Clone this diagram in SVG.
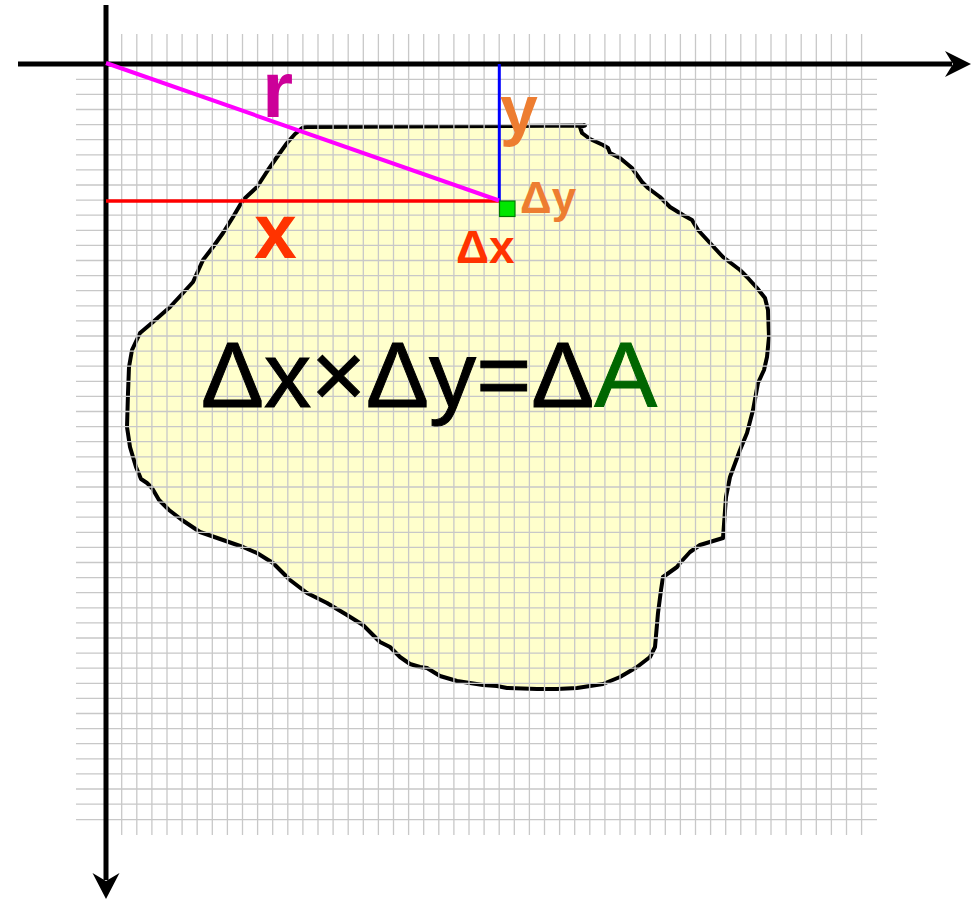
<svg xmlns="http://www.w3.org/2000/svg" width="976" height="900" viewBox="0 0 976 900">
<style>
.grid{stroke:#c8c8c8;stroke-width:1.3;fill:none}
.axis{stroke:#000;stroke-width:5;fill:none}
.lbl{font-family:"Liberation Sans",Arial,sans-serif;font-weight:bold}
</style>
<rect width="976" height="900" fill="#fff"/>
<g id="region">
<path d="M300,130 Q302,127 307,127 L585,125.5 L580,127 L582,133 L590,139 L603,145 L608,148 L610,153 L620,158 L632,168 L637,175 L642,182 L648,188 L660,197 L670,207 L683,215 L692,220 L698,230 L710,243 L723,257 L740,270 L747,277 L757,288 L765,298 L768,310 L769,337 L767,357 L764,370 L758,383 L753,410 L747,433 L740,450 L730,477 L726,497 L723,538 L700,545 L690,552 L680,563 L677,567 L663,577 L661,590 L658,613 L655,647 L650,657 L637,667 L620,677 L603,684 L577,688 L557,689 L537,689 L507,688 L497,686 L483,685 L457,681 L440,676 L427,668 L420,667 L410,664 L400,657 L390,647 L380,642 L363,625 L347,615 L327,603 L307,593 L290,580 L273,563 L257,553 L243,547 L223,540 L200,532 L182,520 L169,510 L159,500 L152,488 L147,483 L141,479 L136,467 L130,447 L127,427 L128,393 L129,367 L132,350 L140,333 L153,322 L170,307 L183,293 L193,282 L203,260 L213,247 L223,233 L233,217 L243,200 L257,187 L268,170 L277,157 L287,143 L295,134 Z" fill="#ffffcc" stroke="#000" stroke-width="4" stroke-linejoin="round"/>
</g>
<g id="grid">
<path class="grid" d="M106.6,34V835M121.7,34V835M136.8,34V835M151.9,34V835M167,34V835M182.1,34V835M197.2,34V835M212.3,34V835M227.4,34V835M242.5,34V835M257.6,34V835M272.7,34V835M287.8,34V835M302.9,34V835M318,34V835M333.1,34V835M348.2,34V835M363.3,34V835M378.4,34V835M393.5,34V835M408.6,34V835M423.7,34V835M438.8,34V835M453.9,34V835M469,34V835M484.1,34V835M499.2,34V835M514.3,34V835M529.4,34V835M544.5,34V835M559.6,34V835M574.7,34V835M589.8,34V835M604.9,34V835M620,34V835M635.1,34V835M650.2,34V835M665.3,34V835M680.4,34V835M695.5,34V835M710.6,34V835M725.7,34V835M740.8,34V835M755.9,34V835M771,34V835M786.1,34V835M801.2,34V835M816.3,34V835M831.4,34V835M846.5,34V835M861.6,34V835"/>
<path class="grid" d="M76,64.2H877M76,79.3H877M76,94.4H877M76,109.5H877M76,124.6H877M76,139.7H877M76,154.8H877M76,169.9H877M76,185H877M76,200.1H877M76,215.2H877M76,230.3H877M76,245.4H877M76,260.5H877M76,275.6H877M76,290.7H877M76,305.8H877M76,320.9H877M76,336H877M76,351.1H877M76,366.2H877M76,381.3H877M76,396.4H877M76,411.5H877M76,426.6H877M76,441.7H877M76,456.8H877M76,471.9H877M76,487H877M76,502.1H877M76,517.2H877M76,532.3H877M76,547.4H877M76,562.5H877M76,577.6H877M76,592.7H877M76,607.8H877M76,622.9H877M76,638H877M76,653.1H877M76,668.2H877M76,683.3H877M76,698.4H877M76,713.5H877M76,728.6H877M76,743.7H877M76,758.8H877M76,773.9H877M76,789H877M76,804.1H877M76,819.7H877"/>
</g>
<g id="connectors">
<path class="axis" d="M18,64H952"/>
<polygon points="971,64 945,51 953,64 945,77" fill="#000"/>
<path class="axis" d="M106,5V880"/>
<polygon points="106,899 92.5,873 106,881 119.5,873" fill="#000"/>
<path d="M106,201H499" stroke="#ff0000" stroke-width="3.5"/>
<path d="M499.3,64V201" stroke="#0000ff" stroke-width="3"/>
<path d="M106,63L499,200.5" stroke="#ff00ff" stroke-width="4"/>
</g>
<g id="element">
<rect x="499.5" y="201" width="15.5" height="15.5" fill="#00e600" stroke="#007a00" stroke-width="1.2"/>
</g>
<g id="labels">
<text class="lbl" x="262" y="117" font-size="80" fill="#cc0099">r</text>
<text class="lbl" x="500" y="133" font-size="68" fill="#ed7d31">y</text>
<text class="lbl" x="254" y="258" font-size="77" fill="#ff3300">x</text>
<text class="lbl" x="456" y="263" font-size="46" fill="#ff3300">Δx</text>
<text class="lbl" x="520" y="213" font-size="44" fill="#ed7d31">Δy</text>
<text x="201" y="407" font-family="Liberation Sans,Arial,sans-serif" font-size="93" fill="#000" stroke="#000" stroke-width="1" textLength="456" lengthAdjust="spacingAndGlyphs">Δx×Δy=Δ<tspan fill="#006600" stroke="#006600">A</tspan></text>
</g>
</svg>
